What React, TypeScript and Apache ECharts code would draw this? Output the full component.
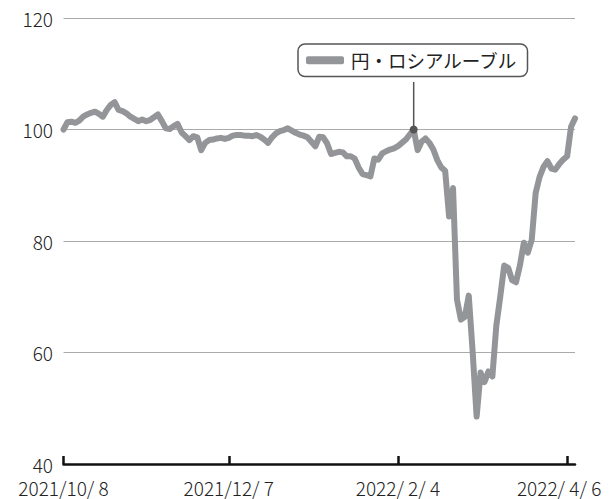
import React, { useEffect, useRef } from "react";
import * as echarts from "echarts";

const seriesName = "円・ロシアルーブル";
const startDate = "2021-10-08";
const tickDates = ["2021/10/8", "2021/12/7", "2022/2/4", "2022/4/6"];
const yTicks = [40, 60, 80, 100, 120];
const values = [
  100.0, 101.3, 101.4, 101.2, 101.6, 102.3, 102.7, 103.0, 103.2, 102.8,
  102.3, 103.5, 104.4, 104.9, 103.5, 103.3, 102.9, 102.3, 101.9, 101.5,
  101.8, 101.5, 101.7, 102.2, 102.7, 101.5, 100.2, 100.1, 100.6, 101.0,
  99.5, 98.8, 98.1, 98.8, 98.6, 96.3, 97.6, 98.1, 98.2, 98.4,
  98.5, 98.3, 98.5, 98.9, 99.0, 99.0, 98.9, 98.9, 98.8, 99.0,
  98.7, 98.2, 97.6, 98.6, 99.3, 99.7, 99.9, 100.2, 99.8, 99.4,
  99.1, 98.9, 98.6, 97.8, 97.0, 98.7, 98.6, 97.5, 95.6, 95.8,
  96.0, 95.9, 95.2, 95.2, 94.8, 93.2, 92.0, 91.8, 91.6, 94.8,
  94.6, 95.7, 96.1, 96.4, 96.6, 97.0, 97.6, 98.2, 99.1, 100.0,
  96.3, 97.8, 98.4, 97.6, 96.4, 94.5, 93.2, 92.6, 84.4, 89.5,
  69.5, 65.9, 66.4, 70.2, 60.0, 48.5, 56.4, 54.7, 56.6, 55.7,
  64.8, 70.0, 75.6, 75.2, 73.0, 72.6, 75.6, 79.7, 77.9, 80.2,
  88.6, 91.5, 93.3, 94.3, 93.0, 92.8, 93.8, 94.6, 95.2, 100.5,
  102.0,
];
const calloutIndex = 89;

function buildDates(start: string, count: number): string[] {
  const out: string[] = [];
  const d = new Date(start + "T00:00:00");
  while (out.length < count) {
    const wd = d.getDay();
    if (wd !== 0 && wd !== 6) {
      out.push(`${d.getFullYear()}/${d.getMonth() + 1}/${d.getDate()}`);
    }
    d.setDate(d.getDate() + 1);
  }
  return out;
}

function pad(s: string): string {
  const [y, m, dd] = s.split("/");
  const p = (v: string) => (v.length < 2 ? " " + v : v);
  return `${y}/${p(m)}/${p(dd)}`;
}

const FONT = "'Noto Sans CJK JP', 'Noto Sans', sans-serif";

export default function App() {
  const ref = useRef<HTMLDivElement>(null);
  useEffect(() => {
    if (!ref.current) return;
    const chart = echarts.init(ref.current, undefined, { renderer: "svg" });
    const dates = buildDates(startDate, values.length);
    const showTick = (i: number) => tickDates.includes(dates[i]);
    const lastTick = tickDates[tickDates.length - 1];
    const labelStyle = { fontSize: 19, color: "#222222", fontFamily: FONT, fontWeight: 300 };
    chart.setOption({
      animation: false,
      backgroundColor: "#ffffff",
      grid: {
        left: 63.5,
        right: 37,
        top: 18,
        bottom: 35,
        containLabel: false,
        outerBoundsMode: "none",
      },
      legend: {
        data: [seriesName],
        left: 298,
        top: 44,
        padding: [7, 10, 7, 8],
        itemWidth: 38,
        itemHeight: 8,
        itemGap: 5,
        icon: "roundRect",
        backgroundColor: "#ffffff",
        borderColor: "#555555",
        borderWidth: 1.5,
        borderRadius: 7,
        selectedMode: false,
        textStyle: { fontSize: 18.5, color: "#222222", fontFamily: FONT, padding: [0, 0, 0, 2] },
      },
      xAxis: {
        type: "category",
        data: dates,
        boundaryGap: false,
        axisLine: { show: true, lineStyle: { color: "#111111", width: 2.5 } },
        axisTick: {
          show: true,
          inside: true,
          length: 8,
          interval: (i: number) => showTick(i),
          lineStyle: { color: "#111111", width: 2.5 },
        },
        axisLabel: {
          show: true,
          interval: (i: number) => showTick(i),
          formatter: (v: string) => (v === lastTick ? `{r|${pad(v)}}` : pad(v)),
          ...labelStyle,
          lineHeight: 20,
          margin: 13,
          rich: { r: { ...labelStyle, lineHeight: 20, padding: [0, 16, 0, 0] } },
        },
        splitLine: { show: false },
      },
      yAxis: {
        type: "value",
        min: yTicks[0],
        max: yTicks[yTicks.length - 1],
        interval: 20,
        axisLine: { show: false },
        axisTick: { show: false },
        axisLabel: { ...labelStyle, lineHeight: 16, margin: 10.5 },
        splitLine: { show: true, lineStyle: { color: "#aaaaaa", width: 1 } },
      },
      series: [
        {
          name: seriesName,
          type: "line",
          data: values,
          showSymbol: false,
          symbol: "none",
          color: "#939598",
          lineStyle: { color: "#939598", width: 6, cap: "round", join: "round" },
          z: 3,
          markPoint: {
            symbol: "circle",
            symbolSize: 8,
            itemStyle: { color: "#555555" },
            label: { show: false },
            data: [{ coord: [calloutIndex, values[calloutIndex]] }],
            z: 10,
          },
        },
      ],
    });
    const pt = chart.convertToPixel({ gridIndex: 0 }, [calloutIndex, values[calloutIndex]]) as number[];
    chart.setOption({
      graphic: [
        {
          type: "line",
          shape: { x1: pt[0], y1: 82, x2: pt[0], y2: pt[1] },
          style: { stroke: "#555555", lineWidth: 1.5 },
          z: 5,
        },
      ],
    });
    return () => chart.dispose();
  }, []);
  return (
    <div
      ref={ref}
      style={{ position: "absolute", left: 0, top: 0, width: 612, height: 499 }}
    />
  );
}
